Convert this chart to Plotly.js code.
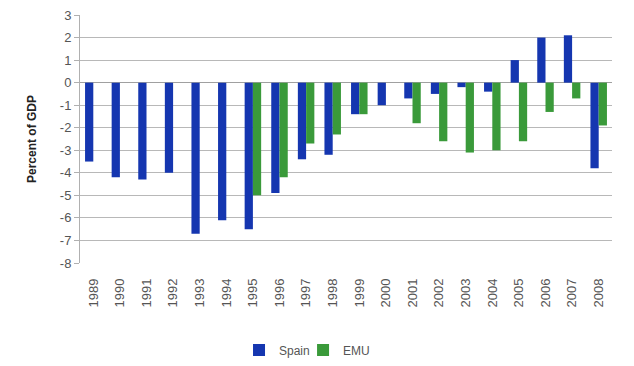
<!DOCTYPE html>
<html>
<head>
<meta charset="utf-8">
<script src="https://cdn.plot.ly/plotly-3.0.1.min.js"></script>
<style>html,body{margin:0;padding:0;background:#fff;}#chart{width:634px;height:366px;}</style>
</head>
<body>
<div id="chart"></div>
<script>
var years = ["1989","1990","1991","1992","1993","1994","1995","1996","1997","1998","1999","2000","2001","2002","2003","2004","2005","2006","2007","2008"];
var spain = [-3.5,-4.2,-4.3,-4.0,-6.7,-6.1,-6.5,-4.9,-3.4,-3.2,-1.4,-1.0,-0.7,-0.5,-0.2,-0.4,1.0,2.0,2.1,-3.8];
var emu = [null,null,null,null,null,null,-5.0,-4.2,-2.7,-2.3,-1.4,null,-1.8,-2.6,-3.1,-3.0,-2.6,-1.3,-0.7,-1.9];
var yTicks = [3,2,1,0,-1,-2,-3,-4,-5,-6,-7,-8];

var data = [
  {type:'bar', name:'Spain', x:years, y:spain, marker:{color:'#1536b0'}, legend:'legend'},
  {type:'bar', name:'EMU', x:years, y:emu, marker:{color:'#3a9a3a'}, legend:'legend2'}
];
var legBase = {orientation:'h', xanchor:'left', xref:'container', yref:'container', y:0.044, yanchor:'middle',
    font:{size:12, color:'#555'}, itemwidth:30, bgcolor:'rgba(0,0,0,0)'};
var layout = {
  width:634, height:366,
  margin:{l:80, r:22, t:15, b:103},
  paper_bgcolor:'#fff', plot_bgcolor:'#fff',
  font:{family:'Liberation Sans, Arial, sans-serif', size:12, color:'#555'},
  barmode:'group', bargap:0.38, bargroupgap:0,
  showlegend:true,
  legend:Object.assign({}, legBase, {x:0.377}),
  legend2:Object.assign({}, legBase, {x:0.478}),
  xaxis:{type:'category', tickangle:-90, showgrid:false, showline:false, ticks:'', ticklabelstandoff:12,
    tickfont:{size:13, color:'#555'}, automargin:false},
  yaxis:{range:[-8,3], tickvals:yTicks, ticktext:yTicks.map(String), showgrid:true, gridcolor:'#b8b8b8', gridwidth:1,
    zeroline:true, zerolinecolor:'#a0a0a0', zerolinewidth:1, showline:true, linecolor:'#b0b0b0', ticks:'outside', ticklen:5, tickcolor:'#b0b0b0',
    title:{text:'Percent of GDP', font:{size:12, color:'#222', family:'Liberation Sans, Arial, sans-serif', weight:'bold'}, standoff:20},
    tickfont:{size:13, color:'#555'}, automargin:false}
};
Plotly.newPlot('chart', data, layout, {displayModeBar:false, staticPlot:true});
</script>
</body>
</html>
